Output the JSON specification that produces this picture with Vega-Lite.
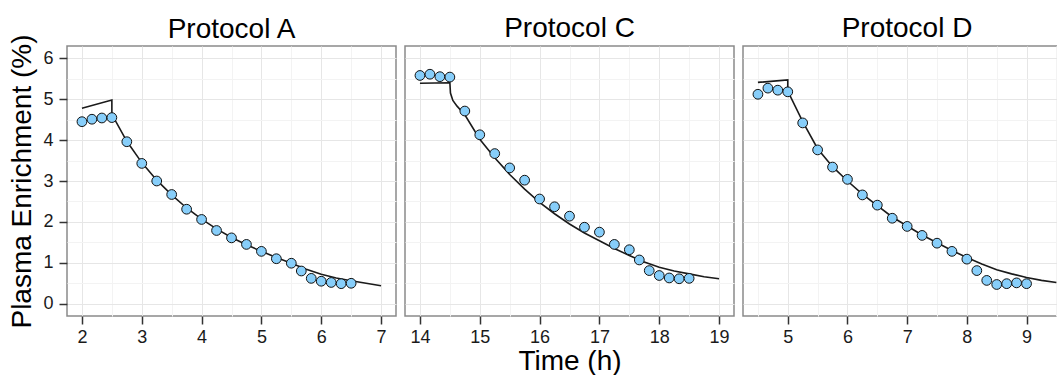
{
  "$schema": "https://vega.github.io/schema/vega-lite/v6.json",
  "background": "white",
  "padding": {"left": 8, "top": 14, "right": 0, "bottom": 0},
  "datasets": {
    "obs": [
      {"protocol": "A", "time": 2.0, "enrichment": 4.45},
      {"protocol": "A", "time": 2.167, "enrichment": 4.51},
      {"protocol": "A", "time": 2.333, "enrichment": 4.54},
      {"protocol": "A", "time": 2.5, "enrichment": 4.55},
      {"protocol": "A", "time": 2.75, "enrichment": 3.96},
      {"protocol": "A", "time": 3.0, "enrichment": 3.43},
      {"protocol": "A", "time": 3.25, "enrichment": 3.0},
      {"protocol": "A", "time": 3.5, "enrichment": 2.67},
      {"protocol": "A", "time": 3.75, "enrichment": 2.31},
      {"protocol": "A", "time": 4.0, "enrichment": 2.06},
      {"protocol": "A", "time": 4.25, "enrichment": 1.79},
      {"protocol": "A", "time": 4.5, "enrichment": 1.61},
      {"protocol": "A", "time": 4.75, "enrichment": 1.45},
      {"protocol": "A", "time": 5.0, "enrichment": 1.28},
      {"protocol": "A", "time": 5.25, "enrichment": 1.10},
      {"protocol": "A", "time": 5.5, "enrichment": 0.99},
      {"protocol": "A", "time": 5.667, "enrichment": 0.80},
      {"protocol": "A", "time": 5.833, "enrichment": 0.62},
      {"protocol": "A", "time": 6.0, "enrichment": 0.55},
      {"protocol": "A", "time": 6.167, "enrichment": 0.52},
      {"protocol": "A", "time": 6.333, "enrichment": 0.49},
      {"protocol": "A", "time": 6.5, "enrichment": 0.50},
      {"protocol": "C", "time": 14.0, "enrichment": 5.58},
      {"protocol": "C", "time": 14.167, "enrichment": 5.61},
      {"protocol": "C", "time": 14.333, "enrichment": 5.55},
      {"protocol": "C", "time": 14.5, "enrichment": 5.54},
      {"protocol": "C", "time": 14.75, "enrichment": 4.71},
      {"protocol": "C", "time": 15.0, "enrichment": 4.13},
      {"protocol": "C", "time": 15.25, "enrichment": 3.67},
      {"protocol": "C", "time": 15.5, "enrichment": 3.32},
      {"protocol": "C", "time": 15.75, "enrichment": 3.02},
      {"protocol": "C", "time": 16.0, "enrichment": 2.56},
      {"protocol": "C", "time": 16.25, "enrichment": 2.37},
      {"protocol": "C", "time": 16.5, "enrichment": 2.14},
      {"protocol": "C", "time": 16.75, "enrichment": 1.87},
      {"protocol": "C", "time": 17.0, "enrichment": 1.75},
      {"protocol": "C", "time": 17.25, "enrichment": 1.45},
      {"protocol": "C", "time": 17.5, "enrichment": 1.32},
      {"protocol": "C", "time": 17.667, "enrichment": 1.07},
      {"protocol": "C", "time": 17.833, "enrichment": 0.81},
      {"protocol": "C", "time": 18.0, "enrichment": 0.69},
      {"protocol": "C", "time": 18.167, "enrichment": 0.63},
      {"protocol": "C", "time": 18.333, "enrichment": 0.61},
      {"protocol": "C", "time": 18.5, "enrichment": 0.62},
      {"protocol": "D", "time": 4.5, "enrichment": 5.12},
      {"protocol": "D", "time": 4.667, "enrichment": 5.27},
      {"protocol": "D", "time": 4.833, "enrichment": 5.22},
      {"protocol": "D", "time": 5.0, "enrichment": 5.18},
      {"protocol": "D", "time": 5.25, "enrichment": 4.42},
      {"protocol": "D", "time": 5.5, "enrichment": 3.76},
      {"protocol": "D", "time": 5.75, "enrichment": 3.34},
      {"protocol": "D", "time": 6.0, "enrichment": 3.04},
      {"protocol": "D", "time": 6.25, "enrichment": 2.66},
      {"protocol": "D", "time": 6.5, "enrichment": 2.41},
      {"protocol": "D", "time": 6.75, "enrichment": 2.09},
      {"protocol": "D", "time": 7.0, "enrichment": 1.89},
      {"protocol": "D", "time": 7.25, "enrichment": 1.67},
      {"protocol": "D", "time": 7.5, "enrichment": 1.48},
      {"protocol": "D", "time": 7.75, "enrichment": 1.28},
      {"protocol": "D", "time": 8.0, "enrichment": 1.09},
      {"protocol": "D", "time": 8.167, "enrichment": 0.81},
      {"protocol": "D", "time": 8.333, "enrichment": 0.57},
      {"protocol": "D", "time": 8.5, "enrichment": 0.47},
      {"protocol": "D", "time": 8.667, "enrichment": 0.49},
      {"protocol": "D", "time": 8.833, "enrichment": 0.51},
      {"protocol": "D", "time": 9.0, "enrichment": 0.49}
    ],
    "fit": [
      {"protocol": "A", "seq": 1, "time": 2.0, "enrichment": 4.78},
      {"protocol": "A", "seq": 2, "time": 2.5, "enrichment": 4.98},
      {"protocol": "A", "seq": 3, "time": 2.5, "enrichment": 4.63},
      {"protocol": "A", "seq": 4, "time": 2.75, "enrichment": 3.97},
      {"protocol": "A", "seq": 5, "time": 3.0, "enrichment": 3.45},
      {"protocol": "A", "seq": 6, "time": 3.25, "enrichment": 3.02},
      {"protocol": "A", "seq": 7, "time": 3.5, "enrichment": 2.66},
      {"protocol": "A", "seq": 8, "time": 3.75, "enrichment": 2.34},
      {"protocol": "A", "seq": 9, "time": 4.0, "enrichment": 2.07},
      {"protocol": "A", "seq": 10, "time": 4.25, "enrichment": 1.83},
      {"protocol": "A", "seq": 11, "time": 4.5, "enrichment": 1.62},
      {"protocol": "A", "seq": 12, "time": 4.75, "enrichment": 1.44},
      {"protocol": "A", "seq": 13, "time": 5.0, "enrichment": 1.28},
      {"protocol": "A", "seq": 14, "time": 5.25, "enrichment": 1.13},
      {"protocol": "A", "seq": 15, "time": 5.5, "enrichment": 0.99},
      {"protocol": "A", "seq": 16, "time": 5.75, "enrichment": 0.84},
      {"protocol": "A", "seq": 17, "time": 6.0, "enrichment": 0.72},
      {"protocol": "A", "seq": 18, "time": 6.25, "enrichment": 0.63},
      {"protocol": "A", "seq": 19, "time": 6.5, "enrichment": 0.56},
      {"protocol": "A", "seq": 20, "time": 6.75, "enrichment": 0.50},
      {"protocol": "A", "seq": 21, "time": 7.0, "enrichment": 0.44},
      {"protocol": "C", "seq": 1, "time": 14.0, "enrichment": 5.39},
      {"protocol": "C", "seq": 2, "time": 14.5, "enrichment": 5.40},
      {"protocol": "C", "seq": 3, "time": 14.51, "enrichment": 5.15},
      {"protocol": "C", "seq": 4, "time": 14.55, "enrichment": 4.97},
      {"protocol": "C", "seq": 5, "time": 14.62, "enrichment": 4.83},
      {"protocol": "C", "seq": 6, "time": 14.75, "enrichment": 4.62},
      {"protocol": "C", "seq": 7, "time": 15.0, "enrichment": 4.02},
      {"protocol": "C", "seq": 8, "time": 15.25, "enrichment": 3.57},
      {"protocol": "C", "seq": 9, "time": 15.5, "enrichment": 3.16},
      {"protocol": "C", "seq": 10, "time": 15.75, "enrichment": 2.80},
      {"protocol": "C", "seq": 11, "time": 16.0, "enrichment": 2.48},
      {"protocol": "C", "seq": 12, "time": 16.25, "enrichment": 2.20},
      {"protocol": "C", "seq": 13, "time": 16.5, "enrichment": 1.95},
      {"protocol": "C", "seq": 14, "time": 16.75, "enrichment": 1.73},
      {"protocol": "C", "seq": 15, "time": 17.0, "enrichment": 1.54},
      {"protocol": "C", "seq": 16, "time": 17.25, "enrichment": 1.35},
      {"protocol": "C", "seq": 17, "time": 17.5, "enrichment": 1.18},
      {"protocol": "C", "seq": 18, "time": 17.75, "enrichment": 1.02},
      {"protocol": "C", "seq": 19, "time": 18.0, "enrichment": 0.89},
      {"protocol": "C", "seq": 20, "time": 18.25, "enrichment": 0.80},
      {"protocol": "C", "seq": 21, "time": 18.5, "enrichment": 0.73},
      {"protocol": "C", "seq": 22, "time": 18.75, "enrichment": 0.66},
      {"protocol": "C", "seq": 23, "time": 19.0, "enrichment": 0.61},
      {"protocol": "D", "seq": 1, "time": 4.5, "enrichment": 5.41},
      {"protocol": "D", "seq": 2, "time": 5.0, "enrichment": 5.47},
      {"protocol": "D", "seq": 3, "time": 5.0, "enrichment": 5.20},
      {"protocol": "D", "seq": 4, "time": 5.25, "enrichment": 4.45},
      {"protocol": "D", "seq": 5, "time": 5.5, "enrichment": 3.79},
      {"protocol": "D", "seq": 6, "time": 5.75, "enrichment": 3.35},
      {"protocol": "D", "seq": 7, "time": 6.0, "enrichment": 3.0},
      {"protocol": "D", "seq": 8, "time": 6.25, "enrichment": 2.68},
      {"protocol": "D", "seq": 9, "time": 6.5, "enrichment": 2.40},
      {"protocol": "D", "seq": 10, "time": 6.75, "enrichment": 2.12},
      {"protocol": "D", "seq": 11, "time": 7.0, "enrichment": 1.90},
      {"protocol": "D", "seq": 12, "time": 7.25, "enrichment": 1.68},
      {"protocol": "D", "seq": 13, "time": 7.5, "enrichment": 1.49},
      {"protocol": "D", "seq": 14, "time": 7.75, "enrichment": 1.30},
      {"protocol": "D", "seq": 15, "time": 8.0, "enrichment": 1.13},
      {"protocol": "D", "seq": 16, "time": 8.25, "enrichment": 0.97},
      {"protocol": "D", "seq": 17, "time": 8.5, "enrichment": 0.83},
      {"protocol": "D", "seq": 18, "time": 8.75, "enrichment": 0.73},
      {"protocol": "D", "seq": 19, "time": 9.0, "enrichment": 0.64},
      {"protocol": "D", "seq": 20, "time": 9.25, "enrichment": 0.57},
      {"protocol": "D", "seq": 21, "time": 9.5, "enrichment": 0.52}
    ]
  },
  "config": {
    "font": "Liberation Sans",
    "view": {"stroke": "#8a8a8a", "strokeWidth": 1.5},
    "axis": {
      "labelFont": "Liberation Sans",
      "labelFontSize": 18,
      "labelColor": "#1a1a1a",
      "titleFont": "Liberation Sans",
      "titleFontSize": 28,
      "titleFontWeight": "normal",
      "titleColor": "#000000",
      "domain": false,
      "tickColor": "#333333",
      "tickWidth": 1.5,
      "tickSize": 8,
      "labelOverlap": false,
      "gridWidth": 1
    },
    "title": {"font": "Liberation Sans", "fontSize": 28, "fontWeight": "normal", "color": "#000000", "offset": 3},
    "concat": {"spacing": 7}
  },
  "hconcat": [
    {
      "width": 329,
      "height": 270,
      "title": {"text": "Protocol A", "offset": -10},
      "encoding": {
        "x": {"field": "time", "type": "quantitative",
          "scale": {"domain": [1.75, 7.25], "nice": false, "zero": false},
          "axis": {"title": null, "values": [2, 2.5, 3, 3.5, 4, 4.5, 5, 5.5, 6, 6.5, 7],
            "labelExpr": "datum.value % 1 === 0 ? format(datum.value, 'd') : ''",
            "labelPadding": 4,
            "tickOpacity": {"condition": {"test": "datum.value % 1 !== 0", "value": 0}, "value": 1},
            "gridColor": {"condition": {"test": "datum.value % 1 !== 0", "value": "#f3f3f3"}, "value": "#e6e6e6"}}},
        "y": {"field": "enrichment", "type": "quantitative",
          "scale": {"domain": [-0.3, 6.3], "nice": false, "zero": false},
          "axis": {"title": "Plasma Enrichment (%)", "values": [0, 0.5, 1, 1.5, 2, 2.5, 3, 3.5, 4, 4.5, 5, 5.5, 6],
            "labelExpr": "datum.value % 1 === 0 ? format(datum.value, 'd') : ''",
            "labelPadding": 6, "titlePadding": 6,
            "tickOpacity": {"condition": {"test": "datum.value % 1 !== 0", "value": 0}, "value": 1},
            "gridColor": {"condition": {"test": "datum.value % 1 !== 0", "value": "#f3f3f3"}, "value": "#e6e6e6"}}}
      },
      "layer": [
        {"data": {"name": "fit"}, "transform": [{"filter": "datum.protocol === 'A'"}],
          "mark": {"type": "line", "color": "#1a1a1a", "strokeWidth": 1.6},
          "encoding": {"order": {"field": "seq", "type": "quantitative"}}},
        {"data": {"name": "obs"}, "transform": [{"filter": "datum.protocol === 'A'"}],
          "mark": {"type": "circle", "color": "#87CEFA", "stroke": "#111111", "strokeWidth": 1, "size": 95, "opacity": 1}}
      ]
    },
    {
      "width": 329,
      "height": 270,
      "title": {"text": "Protocol C"},
      "encoding": {
        "x": {"field": "time", "type": "quantitative",
          "scale": {"domain": [13.75, 19.25], "nice": false, "zero": false},
          "axis": {"title": "Time (h)", "titlePadding": 1, "values": [14, 14.5, 15, 15.5, 16, 16.5, 17, 17.5, 18, 18.5, 19],
            "labelExpr": "datum.value % 1 === 0 ? format(datum.value, 'd') : ''",
            "labelPadding": 4,
            "tickOpacity": {"condition": {"test": "datum.value % 1 !== 0", "value": 0}, "value": 1},
            "gridColor": {"condition": {"test": "datum.value % 1 !== 0", "value": "#f3f3f3"}, "value": "#e6e6e6"}}},
        "y": {"field": "enrichment", "type": "quantitative",
          "scale": {"domain": [-0.3, 6.3], "nice": false, "zero": false},
          "axis": {"title": null, "labels": false, "ticks": false, "values": [0, 0.5, 1, 1.5, 2, 2.5, 3, 3.5, 4, 4.5, 5, 5.5, 6],
            "gridColor": {"condition": {"test": "datum.value % 1 !== 0", "value": "#f3f3f3"}, "value": "#e6e6e6"}}}
      },
      "layer": [
        {"data": {"name": "fit"}, "transform": [{"filter": "datum.protocol === 'C'"}],
          "mark": {"type": "line", "color": "#1a1a1a", "strokeWidth": 1.6},
          "encoding": {"order": {"field": "seq", "type": "quantitative"}}},
        {"data": {"name": "obs"}, "transform": [{"filter": "datum.protocol === 'C'"}],
          "mark": {"type": "circle", "color": "#87CEFA", "stroke": "#111111", "strokeWidth": 1, "size": 95, "opacity": 1}}
      ]
    },
    {
      "width": 318,
      "height": 270,
      "title": {"text": "Protocol D", "dx": 5},
      "encoding": {
        "x": {"field": "time", "type": "quantitative",
          "scale": {"domain": [4.25, 9.577], "nice": false, "zero": false},
          "axis": {"title": null, "values": [4.5, 5, 5.5, 6, 6.5, 7, 7.5, 8, 8.5, 9, 9.5],
            "labelExpr": "datum.value % 1 === 0 ? format(datum.value, 'd') : ''",
            "labelPadding": 4,
            "tickOpacity": {"condition": {"test": "datum.value % 1 !== 0", "value": 0}, "value": 1},
            "gridColor": {"condition": {"test": "datum.value % 1 !== 0", "value": "#f3f3f3"}, "value": "#e6e6e6"}}},
        "y": {"field": "enrichment", "type": "quantitative",
          "scale": {"domain": [-0.3, 6.3], "nice": false, "zero": false},
          "axis": {"title": null, "labels": false, "ticks": false, "values": [0, 0.5, 1, 1.5, 2, 2.5, 3, 3.5, 4, 4.5, 5, 5.5, 6],
            "gridColor": {"condition": {"test": "datum.value % 1 !== 0", "value": "#f3f3f3"}, "value": "#e6e6e6"}}}
      },
      "layer": [
        {"data": {"name": "fit"}, "transform": [{"filter": "datum.protocol === 'D'"}],
          "mark": {"type": "line", "color": "#1a1a1a", "strokeWidth": 1.6},
          "encoding": {"order": {"field": "seq", "type": "quantitative"}}},
        {"data": {"name": "obs"}, "transform": [{"filter": "datum.protocol === 'D'"}],
          "mark": {"type": "circle", "color": "#87CEFA", "stroke": "#111111", "strokeWidth": 1, "size": 95, "opacity": 1}}
      ]
    }
  ]
}
